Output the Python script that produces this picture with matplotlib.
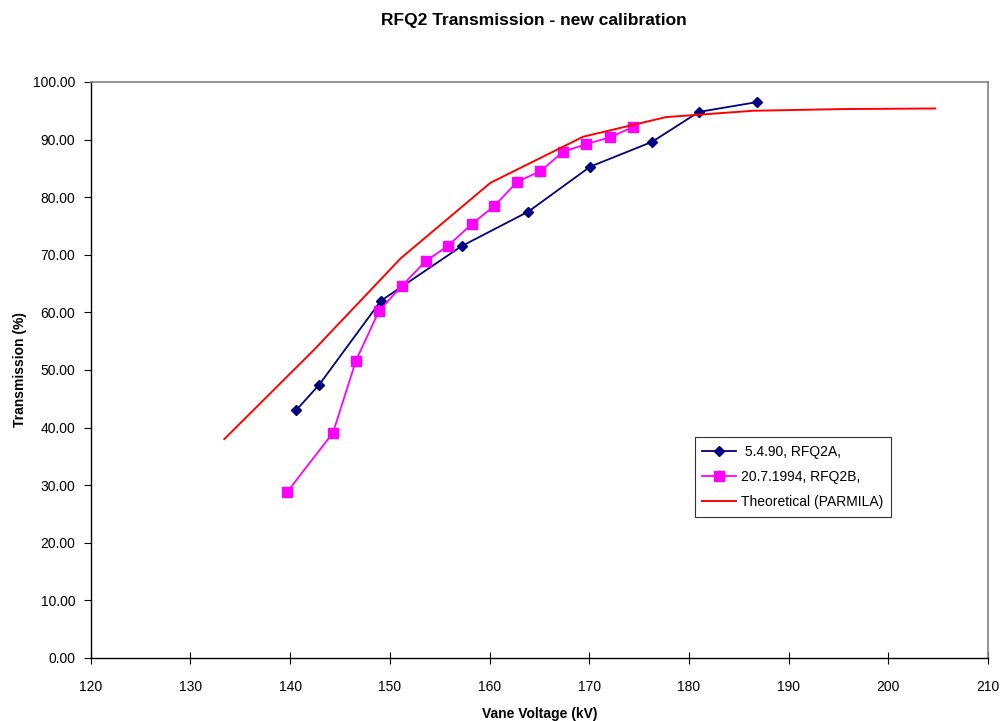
import matplotlib
matplotlib.use("Agg")
import matplotlib.pyplot as plt

plt.rcParams['font.family'] = ['Liberation Sans', 'DejaVu Sans']

# Data
v_a = [140.6, 142.9, 149.1, 157.2, 163.9, 170.1, 176.3, 181.0, 186.8]
t_a = [43.0, 47.4, 62.0, 71.5, 77.5, 85.3, 89.6, 94.8, 96.5]

v_b = [139.7, 144.3, 146.6, 148.9, 151.2, 153.6, 155.8, 158.2, 160.5,
       162.8, 165.1, 167.4, 169.7, 172.1, 174.4]
t_b = [28.8, 39.1, 51.6, 60.2, 64.6, 68.9, 71.5, 75.3, 78.5,
       82.7, 84.5, 87.9, 89.2, 90.4, 92.2]

v_th = [133.4, 142.4, 151.1, 160.1, 169.4, 177.7, 186.4, 195.6, 204.7]
t_th = [38.0, 53.5, 69.4, 82.5, 90.5, 93.9, 95.0, 95.3, 95.4]

labels = [' 5.4.90, RFQ2A,', '20.7.1994, RFQ2B,', 'Theoretical (PARMILA)']
x_ticks = list(range(120, 211, 10))
y_ticks = list(range(0, 101, 10))

fig = plt.figure(figsize=(10, 7.21), dpi=100)
ax = fig.add_axes([0.0907, 0.0874, 0.8973, 0.7989])

ax.plot(v_a, t_a, color='#000080', marker='D', markersize=5.5, lw=1.3,
        label=labels[0])
ax.plot(v_b, t_b, color='#FF00FF', marker='s', markersize=7, lw=1.3,
        label=labels[1])
ax.plot(v_th, t_th, color='#FF0000', lw=1.4, label=labels[2])

ax.set_xlim(120, 210)
ax.set_ylim(0, 100)
ax.set_xticks(x_ticks)
ax.set_yticks(y_ticks)
ax.set_yticklabels([f"{y:.2f}" for y in y_ticks])
ax.tick_params(axis='x', direction='inout', length=8, width=0.8, labelsize=10, pad=12)
ax.tick_params(axis='y', direction='out', length=5, width=0.8, labelsize=10, pad=6)

for s in ['top', 'right']:
    ax.spines[s].set_color('#808080')
    ax.spines[s].set_linewidth(1.2)
for s in ['left', 'bottom']:
    ax.spines[s].set_color('black')
    ax.spines[s].set_linewidth(1.0)

ax.set_xlabel('Vane Voltage (kV)', fontsize=10, fontweight='bold', labelpad=9)
ax.set_ylabel('Transmission (%)', fontsize=10, fontweight='bold', labelpad=4)
fig.text(0.534, 0.972, 'RFQ2 Transmission - new calibration', fontsize=12.5,
         fontweight='bold', ha='center', va='center')

leg = ax.legend(loc='lower left', bbox_to_anchor=(0.673, 0.245), fontsize=10,
                frameon=True, fancybox=False, edgecolor='black',
                borderpad=0.55, labelspacing=0.8, handlelength=2.4,
                handletextpad=0.4, borderaxespad=0)
leg.get_frame().set_linewidth(0.8)

fig.savefig('out.png', dpi=100)
